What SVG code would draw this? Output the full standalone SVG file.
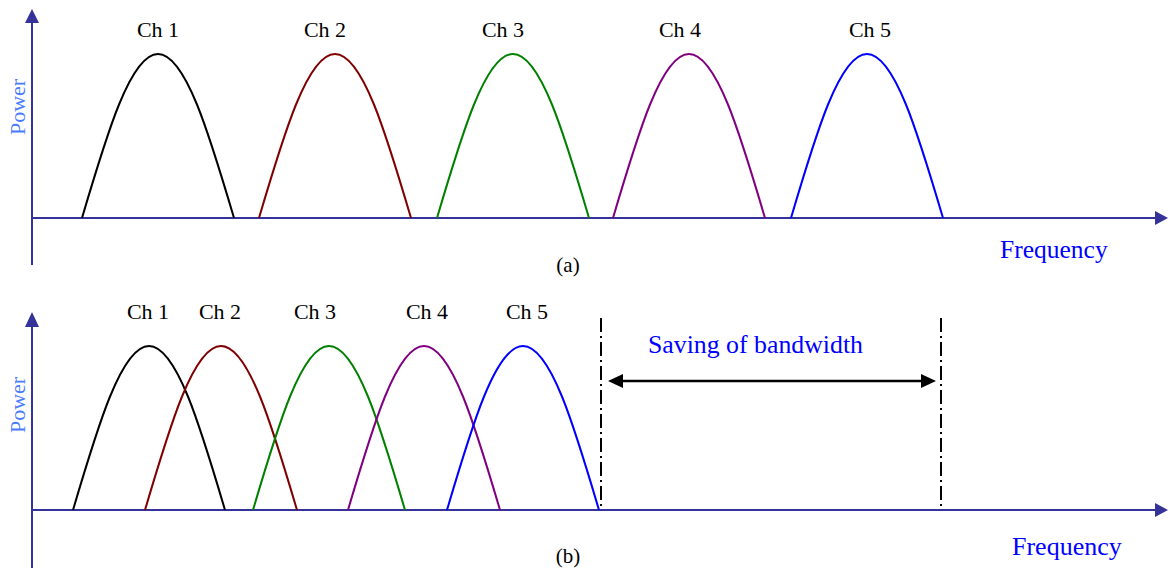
<svg xmlns="http://www.w3.org/2000/svg" width="1168" height="574" viewBox="0 0 1168 574">
<style>
.ax{stroke:#333399;stroke-width:2;fill:none}
.axh{fill:#333399}
.cv{fill:none;stroke-width:2}
.lbl{font-family:"Liberation Serif",serif;font-size:22px;fill:#000;text-anchor:middle}
.pw{font-family:"Liberation Serif",serif;font-size:22px;fill:#4a7cff;text-anchor:middle}
.fq{font-family:"Liberation Serif",serif;font-size:25.5px;fill:#0000ff}
.cap{font-family:"Liberation Serif",serif;font-size:21px;fill:#000;text-anchor:middle}
.dd{stroke:#000;stroke-width:2;stroke-dasharray:14,4,2,4;fill:none}
</style>
<defs>
<path id="bump" d="M0,0 c24.8,-84 48.6,-164 76,-164 c27.4,0 51.2,80 76,164"/>
</defs>
<rect width="1168" height="574" fill="#fff"/>
<g id="axes-a">
<line class="ax" x1="32" y1="265" x2="32" y2="20"/>
<polygon class="axh" points="32,9 25,23 39,23"/>
<line class="ax" x1="32" y1="218" x2="1157" y2="218"/>
<polygon class="axh" points="1168,218 1155,211 1155,225"/>
<text class="pw" transform="translate(25,107) rotate(-90)">Power</text>
<text class="fq" x="1000" y="258">Frequency</text>
<text class="cap" x="568" y="272">(a)</text>
</g>
<g id="channels-a">
<g id="a-ch1"><use href="#bump" x="82" y="218" class="cv" stroke="#000"/><text class="lbl" x="158" y="37">Ch 1</text></g>
<g id="a-ch2"><use href="#bump" x="259" y="218" class="cv" stroke="#800000"/><text class="lbl" x="325" y="37">Ch 2</text></g>
<g id="a-ch3"><use href="#bump" x="437" y="218" class="cv" stroke="#008000"/><text class="lbl" x="503" y="37">Ch 3</text></g>
<g id="a-ch4"><use href="#bump" x="613" y="218" class="cv" stroke="#800080"/><text class="lbl" x="680" y="37">Ch 4</text></g>
<g id="a-ch5"><use href="#bump" x="791" y="218" class="cv" stroke="#0000ff"/><text class="lbl" x="870" y="37">Ch 5</text></g>
</g>
<g id="axes-b">
<line class="ax" x1="32" y1="568" x2="32" y2="322"/>
<polygon class="axh" points="32,312 25,327 39,327"/>
<line class="ax" x1="32" y1="510" x2="1157" y2="510"/>
<polygon class="axh" points="1168,510 1155,503 1155,517"/>
<text class="pw" transform="translate(25,405) rotate(-90)">Power</text>
<text class="fq" x="1012" y="555" style="font-size:26px">Frequency</text>
<text class="cap" x="568" y="563">(b)</text>
</g>
<g id="channels-b">
<g id="b-ch1"><use href="#bump" x="73" y="510" class="cv" stroke="#000"/><text class="lbl" x="148" y="319">Ch 1</text></g>
<g id="b-ch2"><use href="#bump" x="145" y="510" class="cv" stroke="#800000"/><text class="lbl" x="220" y="319">Ch 2</text></g>
<g id="b-ch3"><use href="#bump" x="253" y="510" class="cv" stroke="#008000"/><text class="lbl" x="315" y="319">Ch 3</text></g>
<g id="b-ch4"><use href="#bump" x="348" y="510" class="cv" stroke="#800080"/><text class="lbl" x="427" y="319">Ch 4</text></g>
<g id="b-ch5"><use href="#bump" x="447" y="510" class="cv" stroke="#0000ff"/><text class="lbl" x="527" y="319">Ch 5</text></g>
</g>
<g id="connectors">
<line class="dd" x1="601" y1="318" x2="601" y2="510"/>
<line class="dd" x1="941" y1="318" x2="941" y2="510"/>
<line x1="620" y1="381" x2="924" y2="381" stroke="#000" stroke-width="2.5"/>
<polygon points="608,381 623,374 623,388" fill="#000"/>
<polygon points="936,381 921,374 921,388" fill="#000"/>
<text class="fq" x="648" y="353" style="font-size:25.8px">Saving of bandwidth</text>
</g>
</svg>
